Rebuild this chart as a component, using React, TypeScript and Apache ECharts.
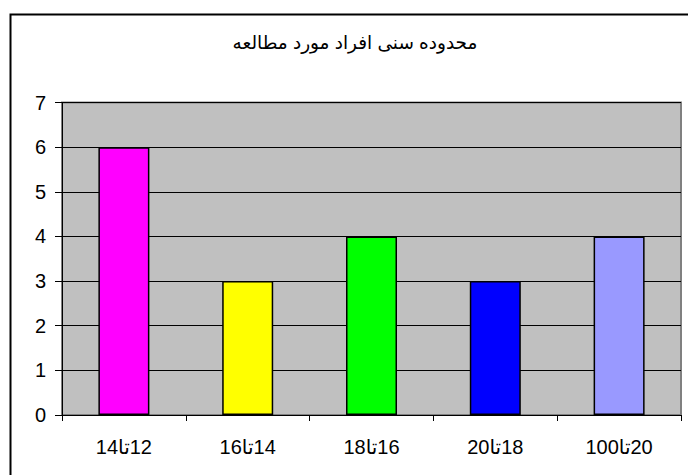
import React, { useEffect, useRef } from "react";
import * as echarts from "echarts";

const chartTitle = "محدوده سنی افراد مورد مطالعه";
const categories = ["12تا14", "14تا16", "16تا18", "18تا20", "20تا100"];
const values = [6, 3, 4, 3, 4];
const barColors = ["#FF00FF", "#FFFF00", "#00FF00", "#0000FF", "#9999FF"];
const yTicks = { min: 0, max: 7, interval: 1 };

const FONT = "'Liberation Sans', Arial, 'DejaVu Sans', sans-serif";

export default function App() {
  const ref = useRef<HTMLDivElement>(null);
  useEffect(() => {
    if (!ref.current) return;
    const chart = echarts.init(ref.current, null, { renderer: "svg" });
    chart.setOption({
      animation: false,
      backgroundColor: "#ffffff",
      title: {
        text: chartTitle,
        left: 350,
        top: 28,
        textAlign: "center",
        textStyle: { fontFamily: FONT, fontSize: 18.5, fontWeight: "normal", color: "#000" },
      },
      graphic: [
        {
          type: "rect",
          left: 8,
          top: 12,
          shape: { x: 0, y: 0, width: 700, height: 500 },
          style: { fill: "none", stroke: "#000", lineWidth: 2 },
          z: 100,
          silent: true,
        },
      ],
      grid: {
        left: 62,
        top: 102.5,
        right: 7,
        bottom: 60,
        show: true,
        backgroundColor: "#C0C0C0",
        borderColor: "#808080",
        borderWidth: 2,
      },
      xAxis: {
        type: "category",
        data: categories,
        axisLine: { show: true, lineStyle: { color: "#000", width: 1 } },
        axisTick: { show: true, alignWithLabel: false, length: 6, lineStyle: { color: "#000" } },
        axisLabel: {
          fontFamily: FONT,
          fontSize: 20,
          color: "#000",
          margin: 22,
          formatter: (v: string) => "\u2067" + v + "\u2069",
        },
        splitLine: { show: false },
      },
      yAxis: {
        type: "value",
        min: yTicks.min,
        max: yTicks.max,
        interval: yTicks.interval,
        axisLine: { show: true, lineStyle: { color: "#000", width: 1 } },
        axisTick: { show: true, length: 7, lineStyle: { color: "#000" } },
        axisLabel: { fontFamily: FONT, fontSize: 20, color: "#000", margin: 16 },
        splitLine: { show: true, lineStyle: { color: "#000", width: 1 } },
      },
      series: [
        {
          type: "bar",
          barWidth: 51,
          data: values.map((v, i) => ({
            value: v,
            itemStyle: { color: barColors[i], borderColor: "#000", borderWidth: 1.5 },
          })),
        },
      ],
    });
    return () => chart.dispose();
  }, []);
  return (
    <div
      ref={ref}
      style={{ position: "fixed", left: 0, top: 0, width: 688, height: 475 }}
    />
  );
}
